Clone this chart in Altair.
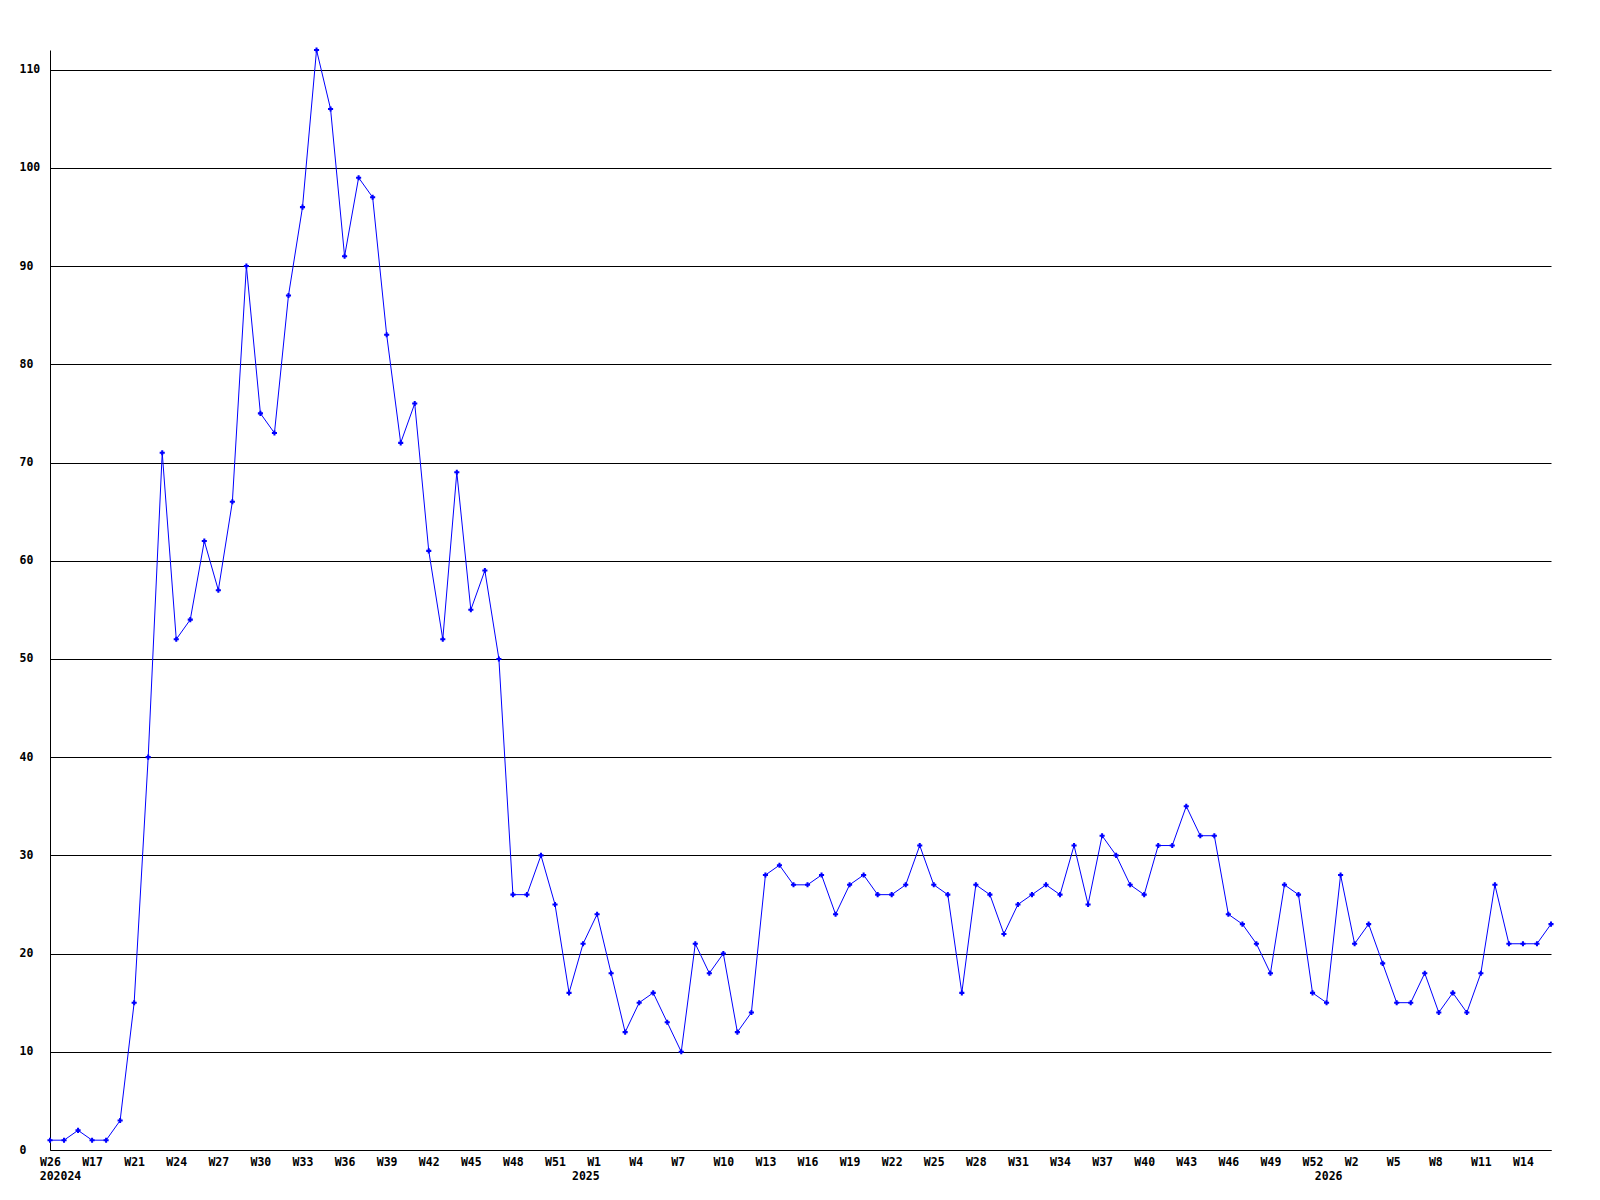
import altair as alt
import pandas as pd

# Weekly values (index 0..107)
values = [
    1, 1, 2, 1, 1, 3, 15, 40, 71, 52,
    54, 62, 57, 66, 90, 75, 73, 87, 96, 112,
    106, 91, 99, 97, 83, 72, 76, 61, 52, 69,
    55, 59, 50, 26, 26, 30, 25, 16, 21, 24,
    18, 12, 15, 16, 13, 10, 21, 18, 20, 12,
    14, 28, 29, 27, 27, 28, 24, 27, 28, 26,
    26, 27, 31, 27, 26, 16, 27, 26, 22, 25,
    26, 27, 26, 31, 25, 32, 30, 27, 26, 31,
    31, 35, 32, 32, 24, 23, 21, 18, 27, 26,
    16, 15, 28, 21, 23, 19, 15, 15, 18, 14,
    16, 14, 18, 27, 21, 21, 21, 23,
]

week_labels = ["W26", "W17", "W21", "W24", "W27", "W30", "W33", "W36", "W39",
               "W42", "W45", "W48", "W51", "W1", "W4", "W7", "W10", "W13",
               "W16", "W19", "W22", "W25", "W28", "W31", "W34", "W37", "W40",
               "W43", "W46", "W49", "W52", "W2", "W5", "W8", "W11", "W14"]
week_ticks = list(range(0, 106, 3))

year_labels = ["202024", "2025", "2026"]
year_pos = [0.75, 38.2, 91.15]

y_ticks = list(range(0, 111, 10))

df = pd.DataFrame({"i": list(range(len(values))), "v": values})
ydf = pd.DataFrame({"p": year_pos, "t": year_labels})

W, H = 1501, 1100
FONT = "DejaVu Sans Mono"
N = len(values) - 1

label_map = "{" + ",".join(f"'{t}':'{l}'" for t, l in zip(week_ticks, week_labels)) + "}"

xscale = alt.Scale(domain=[0, N], nice=False, zero=False)
yscale = alt.Scale(domain=[0, 112], nice=False)

xaxis = alt.Axis(values=week_ticks, labelExpr=f"{label_map}[datum.value]",
                 grid=False, ticks=False, tickSize=0, domainColor="black",
                 domainWidth=1, labelAlign="left", labelOffset=-10.4,
                 labelBaseline="middle", labelPadding=12, labelFont=FONT,
                 labelFontSize=11.5, labelFontWeight="bold", labelColor="black",
                 labelOverlap=False, labelFlush=False, title=None)
yaxis = alt.Axis(values=y_ticks, grid=True, gridColor="black", gridWidth=1,
                 gridOpacity=1, ticks=False, tickSize=0, domainColor="black",
                 domainWidth=1, labelAlign="left", labelPadding=31,
                 labelBaseline="middle", labelFont=FONT, labelFontSize=11.5,
                 labelFontWeight="bold", labelColor="black", labelOverlap=False,
                 labelFlush=False, title=None)

base = alt.Chart(df)
line = base.mark_line(color="#0000FF", strokeWidth=1).encode(
    x=alt.X("i:Q", scale=xscale, axis=xaxis),
    y=alt.Y("v:Q", scale=yscale, axis=yaxis),
)
pts = base.mark_point(shape="cross", filled=True, size=26, color="#0000FF", opacity=1).encode(
    x=alt.X("i:Q", scale=xscale),
    y=alt.Y("v:Q", scale=yscale),
)
years = alt.Chart(ydf).mark_text(font=FONT, fontSize=11.5, fontWeight="bold",
                                 color="black", align="center", baseline="middle").encode(
    x=alt.X("p:Q", scale=xscale),
    y=alt.value(H + 27),
    text="t:N",
)

chart = alt.layer(line, pts, years).properties(
    width=W, height=H,
    autosize=alt.AutoSizeParams(type="none"),
    padding={"left": 42, "top": 42, "right": 40, "bottom": 40},
    background="white",
).configure_view(stroke=None)

chart.save("out.html", embed_options={"renderer": "svg", "actions": False})
